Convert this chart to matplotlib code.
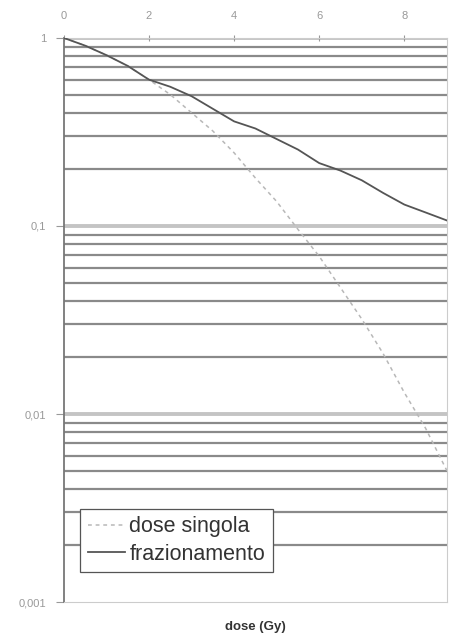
import matplotlib.pyplot as plt
from matplotlib.ticker import FixedLocator, NullFormatter

plt.rcParams['font.family'] = ['Liberation Sans', 'DejaVu Sans']

# dose (Gy) and survival fractions
dose = [0, 0.5, 1, 1.5, 2, 2.5, 3, 3.5, 4, 4.5, 5, 5.5, 6, 6.5, 7, 7.5, 8, 8.5, 9]
singola = [1, 0.91, 0.81, 0.71, 0.60, 0.50, 0.40, 0.32, 0.245, 0.18, 0.135, 0.096,
           0.069, 0.047, 0.032, 0.021, 0.013, 0.0084, 0.005]
frazionamento = [1, 0.91, 0.81, 0.71, 0.60, 0.55, 0.49, 0.42, 0.36, 0.33, 0.29, 0.255,
                 0.216, 0.197, 0.175, 0.15, 0.13, 0.118, 0.107]

xticks = [0, 2, 4, 6, 8]
yticks = [1, 0.1, 0.01, 0.001]
ylabels = ['1', '0,1', '0,01', '0,001']

fig = plt.figure(figsize=(4.5, 6.41), dpi=100)
ax = fig.add_axes([0.142, 0.0608, 0.851, 0.880])

ax.set_yscale('log')
ax.set_xlim(0, 9)
ax.set_ylim(0.001, 1)

# horizontal grid: minor lines dark, decade lines pale and thicker
minors = [m * 10.0 ** e for e in (-3, -2, -1) for m in range(2, 10)]
for v in minors:
    ax.axhline(v, color='#8a8a8a', lw=1.6, zorder=1)
for v in [1, 0.1, 0.01]:
    ax.axhline(v, color='#c4c4c4', lw=2.8, zorder=1)

ax.plot(dose, singola, color='#b8b8b8', lw=1.1, ls=(0, (2.5, 2.5)), label='dose singola', zorder=3)
ax.plot(dose, frazionamento, color='#555555', lw=1.3, label='frazionamento', zorder=3)

ax.xaxis.tick_top()
ax.set_xticks(xticks)
ax.set_xticklabels([str(t) for t in xticks])
ax.tick_params(axis='x', direction='inout', length=5, colors='#999999', labelsize=8, pad=10)

ax.yaxis.set_major_locator(FixedLocator(yticks))
ax.set_yticklabels(ylabels)
ax.yaxis.set_minor_formatter(NullFormatter())
ax.tick_params(axis='y', which='major', direction='out', length=6, colors='#999999', labelsize=8, pad=7)
ax.tick_params(axis='y', which='minor', length=0)

for s in ['top', 'right', 'bottom']:
    ax.spines[s].set_color('#cccccc')
ax.spines['left'].set_color('#777777')
ax.spines['left'].set_linewidth(1.3)

ax.set_xlabel('dose (Gy)', fontsize=9.5, fontweight='bold', color='#333333', labelpad=14)

leg = ax.legend(loc='lower left', bbox_to_anchor=(0.042, 0.053), fontsize=15.5,
                frameon=True, fancybox=False, handlelength=1.75, borderpad=0.35,
                labelspacing=0.3, handletextpad=0.2, borderaxespad=0)
leg.get_frame().set_edgecolor('#555555')
leg.get_frame().set_linewidth(0.9)
leg.get_frame().set_alpha(1)
for t in leg.get_texts():
    t.set_color('#333333')

fig.savefig('out.png', dpi=100)
